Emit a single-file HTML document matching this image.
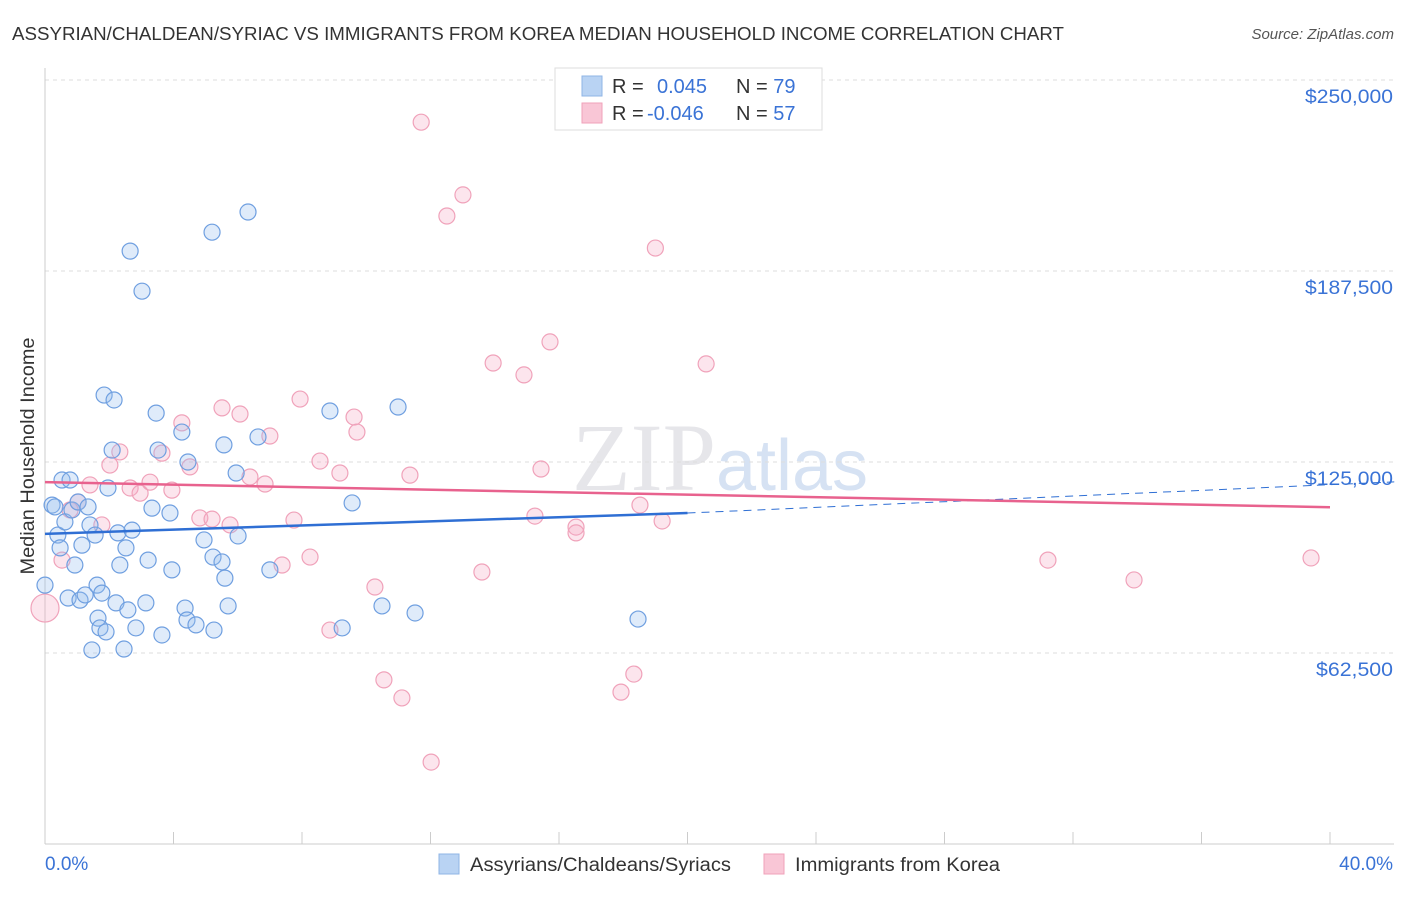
<!DOCTYPE html>
<html><head><meta charset="utf-8"><style>
body{margin:0;background:#fff;font-family:"Liberation Sans",sans-serif;}
</style></head><body>
<svg id="c" width="1406" height="892" xmlns="http://www.w3.org/2000/svg">
<text x="12" y="40" font-size="18" fill="#333" textLength="1052" lengthAdjust="spacingAndGlyphs">ASSYRIAN/CHALDEAN/SYRIAC VS IMMIGRANTS FROM KOREA MEDIAN HOUSEHOLD INCOME CORRELATION CHART</text>
<text x="1394" y="39" font-size="15" fill="#555" text-anchor="end" font-style="italic">Source: ZipAtlas.com</text>
<text x="720" y="490" font-size="96" fill="#e6e6ea" text-anchor="middle" font-family="Liberation Serif">ZIP<tspan fill="#d6e2f3" font-family="Liberation Sans" font-size="72">atlas</tspan></text>
<g id="grid"></g><g id="axes"></g><g id="pts"></g><g id="trend"></g>
<g>
<rect x="555" y="68" width="267" height="62" fill="#fff" stroke="#ddd"/>
<rect x="582" y="76" width="20" height="20" fill="#b9d3f3" stroke="#8fb4e6"/>
<rect x="582" y="103" width="20" height="20" fill="#f9c6d6" stroke="#f0a2ba"/>
<text x="612" y="93" font-size="20" fill="#333">R = <tspan x="657" fill="#3a73d6">0.045</tspan><tspan x="736" fill="#333">N = </tspan><tspan fill="#3a73d6">79</tspan></text>
<text x="612" y="120" font-size="20" fill="#333">R = <tspan x="647" fill="#3a73d6">-0.046</tspan><tspan x="736" fill="#333">N = </tspan><tspan fill="#3a73d6">57</tspan></text>
</g>
<g>
<rect x="439" y="854" width="20" height="20" fill="#b9d3f3" stroke="#8fb4e6"/>
<text x="470" y="871" font-size="19" fill="#333" textLength="261" lengthAdjust="spacingAndGlyphs">Assyrians/Chaldeans/Syriacs</text>
<rect x="764" y="854" width="20" height="20" fill="#f9c6d6" stroke="#f0a2ba"/>
<text x="795" y="871" font-size="19" fill="#333" textLength="205" lengthAdjust="spacingAndGlyphs">Immigrants from Korea</text>
</g>
<text x="34" y="456" font-size="19" fill="#333" text-anchor="middle" textLength="237" lengthAdjust="spacingAndGlyphs" transform="rotate(-90 34 456)">Median Household Income</text>
</svg>
<script>
const yTicks=[62500,125000,187500,250000];
const yTickLabels=["$62,500","$125,000","$187,500","$250,000"];
const blueX=[0,0.22,0.31,0.40,0.47,0.53,0.62,0.72,0.78,0.84,0.93,1.03,1.09,1.15,1.25,1.34,1.40,1.46,1.56,1.62,1.65,1.71,1.77,1.84,1.90,1.96,2.09,2.15,2.21,2.27,2.33,2.46,2.52,2.58,2.65,2.71,2.83,3.02,3.14,3.21,3.33,3.46,3.52,3.64,3.89,3.95,4.26,4.36,4.42,4.45,4.70,4.95,5.20,5.23,5.26,5.51,5.57,5.60,5.70,5.95,6.01,6.32,6.63,7.00,8.87,9.25,9.56,10.49,10.99,11.52,18.46];
const blueY=[84.7,110.9,110.3,101.1,96.9,119.1,105.4,80.5,119.1,109.3,91.3,111.9,79.8,97.8,81.5,110.3,104.4,63.5,101.1,84.7,73.9,70.7,82.1,146.9,69.4,116.5,128.9,145.3,78.9,101.8,91.3,63.8,96.9,76.6,194.0,102.7,70.7,180.9,78.9,92.9,109.9,141.0,128.9,68.4,108.3,89.7,134.8,77.2,73.3,125.0,71.7,99.5,200.2,93.9,70.0,92.3,130.6,87.0,77.9,121.4,100.8,206.8,133.2,89.7,141.7,70.7,111.6,77.9,143.0,75.6,73.6];
const pinkX=[0,0.53,0.78,1.03,1.40,1.77,2.02,2.33,2.65,2.96,3.27,3.64,3.95,4.26,4.51,4.82,5.20,5.51,5.76,6.07,6.38,6.85,7.00,7.38,7.75,7.94,8.25,8.56,8.87,9.18,9.62,9.71,10.27,10.55,11.11,11.36,11.71,12.02,12.51,13.01,13.60,13.95,14.91,15.25,15.44,15.72,16.53,16.53,17.93,18.33,18.52,19.00,19.21,20.58,31.22,33.90,39.41];
const pinkY=[77.2,92.9,109.3,111.9,117.5,104.4,124.0,128.3,116.5,114.8,118.4,127.9,115.8,137.8,123.4,106.7,106.3,142.7,104.4,140.7,120.1,117.8,133.5,91.3,106.0,145.6,93.9,125.3,70.0,121.4,139.7,134.8,84.1,53.7,47.8,120.7,236.2,26.8,205.5,212.4,89.0,157.4,153.5,107.3,122.7,164.3,103.7,101.8,49.7,55.6,110.9,195.0,105.7,157.1,92.9,86.4,93.6];
const blueTrend=[[0,101.5],[20,108.3],[42,118.5]];
const pinkTrend=[[0,118.4],[40,110.2]];
const NS="http://www.w3.org/2000/svg";
const X=v=>45+v*(1285/40), Y=k=>844-k*1000*(764/250000);
function mk(p,t,a){const e=document.createElementNS(NS,t);for(const k in a)e.setAttribute(k,a[k]);p.appendChild(e);return e;}
const grid=document.getElementById('grid'),axes=document.getElementById('axes'),pts=document.getElementById('pts'),tr=document.getElementById('trend');
yTicks.forEach((v,i)=>{const y=Y(v/1000);
 const l=mk(grid,'line',{x1:45,x2:1394,y1:y,y2:y,stroke:'#ddd','stroke-dasharray':'4,4'});
 
 
 const t=mk(axes,'text',{x:1393,y:y+23,'font-size':19.5,fill:'#3a73d6','text-anchor':'end',textLength:yTickLabels[i].length*11,lengthAdjust:'spacingAndGlyphs'});t.textContent=yTickLabels[i];
 
 });
mk(axes,'line',{x1:45,x2:45,y1:68,y2:844,stroke:'#ccc'});
mk(axes,'line',{x1:45,x2:1394,y1:844,y2:844,stroke:'#ccc'});
for(let i=0;i<=10;i++){const t=mk(axes,'line',{x1:X(i*4),x2:X(i*4),y1:832,y2:844,stroke:'#ccc'});
 
 }
const xl=mk(axes,'text',{x:45,y:870,'font-size':19,fill:'#3a73d6'});xl.textContent='0.0%';


const xr=mk(axes,'text',{x:1393,y:870,'font-size':19,fill:'#3a73d6','text-anchor':'end'});xr.textContent='40.0%';


pinkX.forEach((v,i)=>{const c=mk(pts,'circle',{cx:X(v),cy:Y(pinkY[i]),r:i==0?14:8,fill:'rgba(246,170,195,0.3)',stroke:'#f0a2ba','stroke-width':1.2});
 
 });
blueX.forEach((v,i)=>{const c=mk(pts,'circle',{cx:X(v),cy:Y(blueY[i]),r:8,fill:'rgba(150,190,240,0.3)',stroke:'#6f9fe0','stroke-width':1.2});
 
 });
const b1=mk(tr,'line',{x1:X(blueTrend[0][0]),y1:Y(blueTrend[0][1]),x2:X(blueTrend[1][0]),y2:Y(blueTrend[1][1]),stroke:'#2f6fd4','stroke-width':2.5});


const b2=mk(tr,'line',{x1:X(blueTrend[1][0]),y1:Y(blueTrend[1][1]),x2:X(blueTrend[2][0]),y2:Y(blueTrend[2][1]),stroke:'#2f6fd4','stroke-width':1,'stroke-dasharray':'8,6'});


const p1=mk(tr,'line',{x1:X(pinkTrend[0][0]),y1:Y(pinkTrend[0][1]),x2:X(pinkTrend[1][0]),y2:Y(pinkTrend[1][1]),stroke:'#e8628e','stroke-width':2.5});


</script>
</body></html>
